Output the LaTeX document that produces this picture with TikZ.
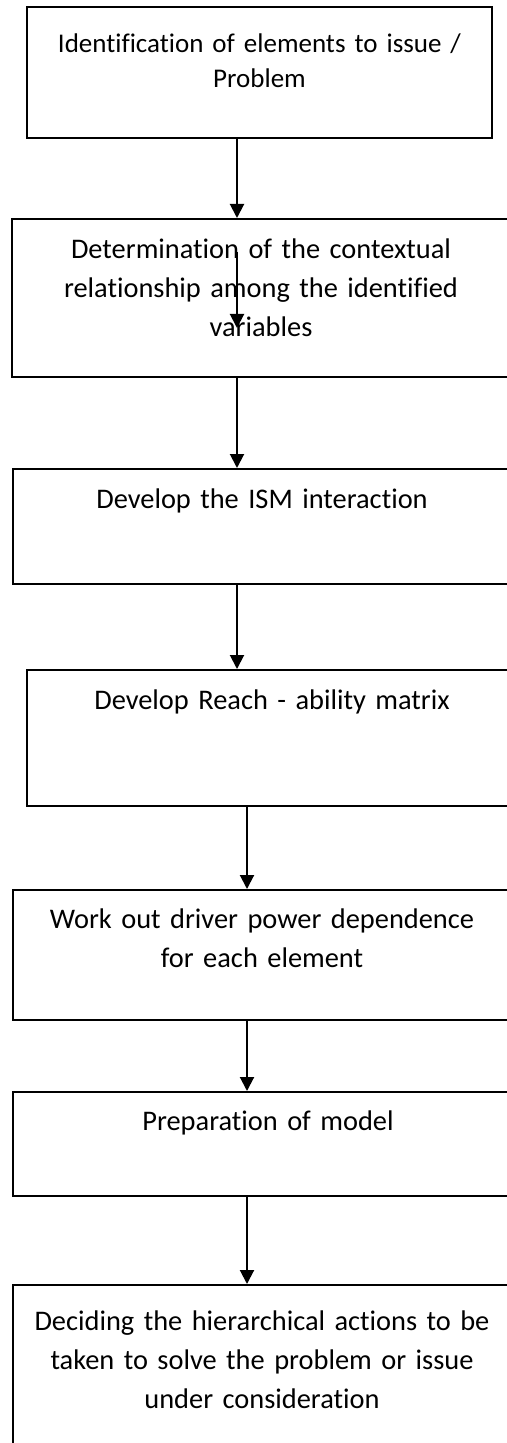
\documentclass[tikz,border=0pt]{standalone}
\usepackage{fontspec}
\setmainfont{Carlito}[Ligatures=NoCommon]
\usetikzlibrary{arrows.meta}

\begin{document}
\begin{tikzpicture}[x=0.5pt, y=-0.5pt]
	\tikzstyle{every node}=[font=\fontsize{14.2}{19.5}\selectfont];
	\tikzstyle{stepbox}=[draw, line width=1pt, anchor=north west, inner sep=0pt];
	\tikzstyle{steptext}=[anchor=base, align=center, text width=250pt, inner sep=0pt];
	\tikzstyle{flow}=[line width=1pt, -{Triangle[width=7pt, length=7pt]}];
	
	\clip (0,0) rectangle (507,1443);
	
	%Boxes
	\node[stepbox, minimum width=232.5pt, minimum height=65.5pt] (s1) at (26,6) {};
	\node[stepbox, minimum width=249pt, minimum height=79pt] (s2) at (11,218) {};
	\node[stepbox, minimum width=249pt, minimum height=57.5pt] (s3) at (12,468) {};
	\node[stepbox, minimum width=245pt, minimum height=68pt] (s4) at (26,669) {};
	\node[stepbox, minimum width=249pt, minimum height=65pt] (s5) at (12,889) {};
	\node[stepbox, minimum width=255pt, minimum height=52pt] (s6) at (12,1091) {};
	\node[stepbox, minimum width=249pt, minimum height=90pt] (s7) at (12,1284) {};
	
	%Texts
	\node[steptext, font=\fontsize{13.5}{17.5}\selectfont] (t1) at ([yshift=-23.5pt]s1.north) {Identification of elements to issue /\\ Problem};
	\node[steptext] (t2) at ([yshift=-20.5pt]s2.north) {Determination of the contextual\\ relationship among the identified\\ variables};
	\node[steptext] (t3) at ([yshift=-20pt]s3.north) {Develop the ISM interaction};
	\node[steptext] (t4) at ([yshift=-20pt]s4.north) {Develop Reach - ability matrix};
	\node[steptext] (t5) at ([yshift=-19.5pt]s5.north) {Work out driver power dependence\\ for each element};
	\node[steptext] (t6) at ([yshift=-19.5pt]s6.north) {Preparation of model};
	\node[steptext] (t7) at ([yshift=-23pt]s7.north) {Deciding the hierarchical actions to be\\ taken to solve the problem or issue\\ under consideration};
	
	%Arrows
	\coordinate (colA) at (237,0);
	\coordinate (colB) at (247,0);
	\draw[flow] (s1.south -| colA) -- (s2.north -| colA);
	\draw[flow] (s2.south -| colA) -- (s3.north -| colA);
	\draw[flow] (s3.south -| colA) -- (s4.north -| colA);
	\draw[flow] (s4.south -| colB) -- (s5.north -| colB);
	\draw[flow] (s5.south -| colB) -- (s6.north -| colB);
	\draw[flow] (s6.south -| colB) -- (s7.north -| colB);
	
	%Arrow left over inside the second box
	\coordinate (s2in) at (237,252);
	\coordinate (s2out) at (237,328);
	\draw[flow] (s2in) -- (s2out);
\end{tikzpicture}
\end{document}
